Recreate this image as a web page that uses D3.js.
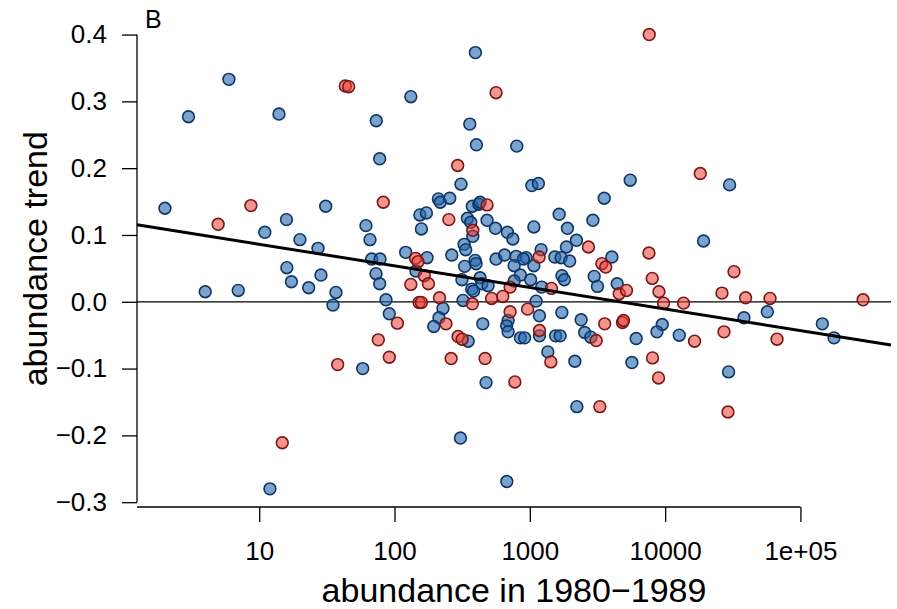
<!DOCTYPE html>
<html>
<head>
<meta charset="utf-8">
<script src="https://cdn.jsdelivr.net/npm/d3@7"></script>
<style>
  body { margin: 0; background: #fff; }
  text { font-family: "Liberation Sans", Arial, Helvetica, sans-serif; fill: #000; }
</style>
</head>
<body>
<svg id="chart" width="897" height="609"></svg>
<script>
// Species with a declining history (blue) and an increasing one (red):
// abundance in 1980-1989 and the fitted abundance trend.
const blueAbundance = [
  2.01, 3.0, 5.97, 14.0, 73.3, 77.7, 31.0, 15.9, 11.0, 20.0, 27.2, 61.5, 65.9, 67.8, 78.1,
  16.0, 17.3, 28.6, 23.2, 3.99, 7.0, 36.9, 35.1, 73.0, 77.7, 86.5, 91.5, 58.2, 12.0,
  396, 132, 360, 403, 801, 310, 1035, 1157, 5520, 3545, 211, 218, 256, 376, 420, 429,
  154, 172, 158, 346, 366, 483, 557, 683, 749, 379, 1647, 1071, 1897, 2924, 2212, 1865,
  327, 336, 121, 265, 174, 4041, 29950, 19230, 38260, 56910, 145200, 177200, 9520, 8700,
  6110, 12720, 5680, 29440, 475, 2227, 307, 676, 2152, 1359, 394, 563, 651, 792, 939, 897,
  1212, 1530, 1704, 1970, 766, 1071, 852, 1014, 766, 1223, 1728, 1799, 2990, 3162, 4424,
  1113, 1178, 1725, 691, 674, 691, 2395, 2543, 1178, 852, 915, 1551, 1675, 2827,
  330, 401, 144, 315, 429, 442, 491, 372, 384, 321, 228, 213, 195, 449, 350
];
const blueTrend = [
  0.140, 0.277, 0.333, 0.281, 0.271, 0.214, 0.143, 0.123, 0.104, 0.093, 0.080, 0.114, 0.093, 0.064, 0.064,
  0.051, 0.030, 0.040, 0.021, 0.015, 0.017, 0.014, -0.005, 0.042, 0.027, 0.003, -0.018, -0.100, -0.280,
  0.373, 0.307, 0.266, 0.235, 0.233, 0.176, 0.174, 0.177, 0.182, 0.155, 0.154, 0.149, 0.155, 0.143, 0.146, 0.149,
  0.130, 0.133, 0.109, 0.125, 0.119, 0.122, 0.110, 0.104, 0.094, 0.098, 0.131, 0.112, 0.110, 0.122, 0.092, 0.082,
  0.086, 0.078, 0.074, 0.070, 0.066, 0.067, 0.175, 0.091, -0.024, -0.015, -0.033, -0.054, -0.034, -0.045,
  -0.055, -0.050, -0.091, -0.105, -0.121, -0.157, -0.204, -0.269, -0.089, -0.075, 0.062, 0.064, 0.070, 0.068, 0.066, 0.064,
  0.078, 0.067, 0.066, 0.061, 0.054, 0.054, 0.040, 0.033, 0.031, 0.022, 0.039, 0.033, 0.038, 0.023, 0.027,
  0.001, -0.021, -0.016, -0.028, -0.036, -0.045, -0.027, -0.046, -0.051, -0.054, -0.054, -0.051, -0.051, -0.053,
  0.053, 0.057, 0.046, 0.033, 0.036, 0.027, 0.024, 0.019, 0.016, 0.002, -0.010, -0.024, -0.037, -0.033, -0.059
];
const redAbundance = [
  43.3, 45.8, 8.68, 4.97, 82.6, 75.9, 91.5, 38.0, 14.8, 563, 293, 483, 252, 379, 2713, 143, 149,
  7630, 18180, 7590, 8030, 32290, 9000, 9730, 13680, 26310, 39330, 59600, 290400, 67130, 27220,
  16500, 8070, 8940, 29140, 262, 467, 775, 3294, 1430, 1172, 3408, 3637, 715, 1445, 4577, 5183,
  522, 631, 963, 715, 3575, 4840, 4924, 1178, 3093, 166, 132, 178, 152, 158, 215, 376, 105, 240, 295, 316
];
const redTrend = [
  0.323, 0.322, 0.144, 0.116, 0.149, -0.057, -0.083, -0.094, -0.211, 0.313, 0.204, 0.145, 0.123, 0.107, 0.082, 0.065, 0.060,
  0.400, 0.192, 0.073, 0.035, 0.045, 0.015, -0.002, -0.002, 0.013, 0.006, 0.005, 0.003, -0.056, -0.045,
  -0.059, -0.084, -0.114, -0.165, -0.085, -0.085, -0.120, -0.157, -0.090, 0.067, 0.057, 0.052, 0.022, 0.020, 0.012, 0.017,
  0.005, 0.008, -0.011, -0.015, -0.033, -0.031, -0.028, -0.043, -0.058, 0.039, 0.026, 0.027, -0.001, -0.001, 0.006, -0.003, -0.032, -0.033, -0.052, -0.056
];

const xTicks = [10, 100, 1000, 10000, 100000];
const xTickLabels = ["10", "100", "1000", "10000", "1e+05"];
const yTicks = [-0.3, -0.2, -0.1, 0.0, 0.1, 0.2, 0.3, 0.4];
const yTickLabels = ["\u22120.3", "\u22120.2", "\u22120.1", "0.0", "0.1", "0.2", "0.3", "0.4"];

// Least-squares fit of trend on log10(abundance)
const fitIntercept = 0.1184;
const fitSlope = -0.0323;

const panelLabel = "B";
const xTitle = "abundance in 1980\u22121989";
const yTitle = "abundance trend";

const blueData = blueAbundance.map((a, i) => ({ a, t: blueTrend[i] }));
const redData = redAbundance.map((a, i) => ({ a, t: redTrend[i] }));
const allData = blueData.concat(redData);

// Data range padded by 4% on each side (log scale for abundance)
const lx = d3.extent(allData, d => Math.log10(d.a));
const lxPad = (lx[1] - lx[0]) * 0.04;
const ty = d3.extent(allData, d => d.t);
const tyPad = (ty[1] - ty[0]) * 0.04;

const plot = { left: 137, right: 891, top: 16.4, bottom: 507 };

const x = d3.scaleLog()
  .domain([Math.pow(10, lx[0] - lxPad), Math.pow(10, lx[1] + lxPad)])
  .range([plot.left, plot.right]);
const y = d3.scaleLinear()
  .domain([ty[0] - tyPad, ty[1] + tyPad])
  .range([plot.bottom, plot.top]);

const svg = d3.select("#chart");
const tickLen = 15;
const tickFont = 26;

// y axis: line spans first to last tick
const yAxis = d3.axisLeft(y)
  .tickValues(yTicks)
  .tickFormat((d, i) => yTickLabels[i])
  .tickSize(tickLen)
  .tickPadding(15);
const gy = svg.append("g").attr("transform", `translate(${plot.left},0)`).call(yAxis);
gy.select(".domain").remove();
gy.append("line")
  .attr("x1", 0).attr("x2", 0)
  .attr("y1", y(yTicks[0])).attr("y2", y(yTicks[yTicks.length - 1]))
  .attr("stroke", "#000").attr("stroke-width", 1.3);
gy.selectAll(".tick line").attr("stroke", "#000").attr("stroke-width", 1.3);
gy.selectAll(".tick text")
  .style("font-size", tickFont + "px")
  .style("font-family", "\"Liberation Sans\", Arial, sans-serif")
  .attr("fill", "#000");

// x axis: line from the plot's left edge to the last tick
const xAxis = d3.axisBottom(x)
  .tickValues(xTicks)
  .tickFormat((d, i) => xTickLabels[i])
  .tickSize(tickLen)
  .tickPadding(20);
const gx = svg.append("g").attr("transform", `translate(0,${plot.bottom})`).call(xAxis);
gx.select(".domain").remove();
gx.append("line")
  .attr("x1", plot.left).attr("x2", x(xTicks[xTicks.length - 1]))
  .attr("y1", 0).attr("y2", 0)
  .attr("stroke", "#000").attr("stroke-width", 1.3);
gx.selectAll(".tick line").attr("stroke", "#000").attr("stroke-width", 1.3);
gx.selectAll(".tick text")
  .style("font-size", tickFont + "px")
  .style("font-family", "\"Liberation Sans\", Arial, sans-serif")
  .attr("fill", "#000");

// Axis titles and panel label
svg.append("text")
  .attr("x", (plot.left + plot.right) / 2)
  .attr("y", 602)
  .attr("text-anchor", "middle")
  .style("font-size", "34px")
  .text(xTitle);
svg.append("text")
  .attr("transform", `translate(47,${(plot.top + plot.bottom) / 2 - 3}) rotate(-90)`)
  .attr("text-anchor", "middle")
  .style("font-size", "34px")
  .text(yTitle);
svg.append("text")
  .attr("x", 145).attr("y", 28)
  .style("font-size", "25px")
  .text(panelLabel);

// Zero reference line
svg.append("line")
  .attr("x1", plot.left).attr("x2", plot.right)
  .attr("y1", y(0)).attr("y2", y(0))
  .attr("stroke", "#000").attr("stroke-width", 1.3);

// Points: blue group first, red group drawn over it
const r = 5.9;
svg.append("g").selectAll("circle").data(blueData).join("circle")
  .attr("cx", d => x(d.a)).attr("cy", d => y(d.t)).attr("r", r)
  .attr("fill", "rgba(33,102,172,0.6)")
  .attr("stroke", "#0f3566").attr("stroke-width", 1.6);
svg.append("g").selectAll("circle").data(redData).join("circle")
  .attr("cx", d => x(d.a)).attr("cy", d => y(d.t)).attr("r", r)
  .attr("fill", "rgba(234,62,50,0.55)")
  .attr("stroke", "#7a1616").attr("stroke-width", 1.6);

// Regression line across the full plotting range
const xd = x.domain();
const fit = a => fitIntercept + fitSlope * Math.log10(a);
svg.append("line")
  .attr("x1", x(xd[0])).attr("y1", y(fit(xd[0])))
  .attr("x2", x(xd[1])).attr("y2", y(fit(xd[1])))
  .attr("stroke", "#000").attr("stroke-width", 3);
</script>
</body>
</html>
